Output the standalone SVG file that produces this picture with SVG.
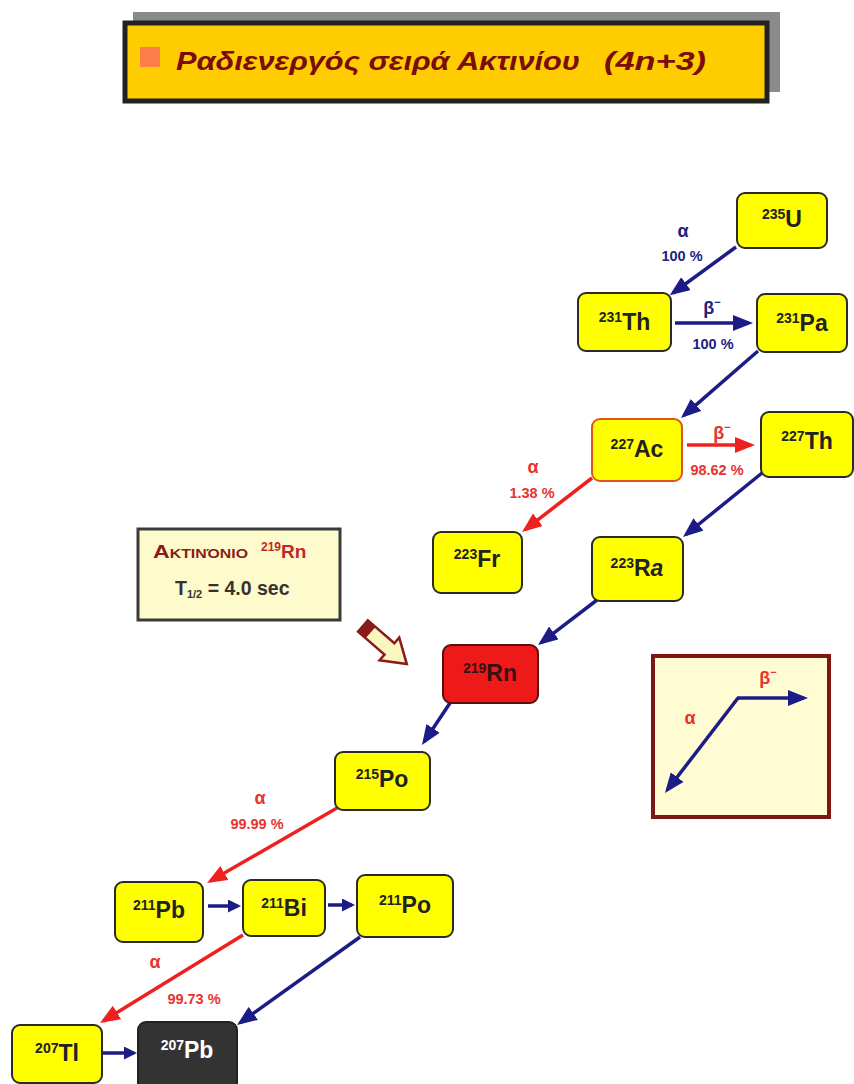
<svg xmlns="http://www.w3.org/2000/svg" width="854" height="1084" viewBox="0 0 854 1084">
<style>
.node rect{fill:#ffff00;stroke:#2a2a2a;stroke-width:2}
.nt{font-family:"Liberation Sans",Arial,sans-serif;font-weight:bold;font-size:23px;fill:#222;text-anchor:middle}
.sup{font-size:14px}
.lb{font-family:"Liberation Sans",Arial,sans-serif;font-weight:bold;font-size:14.5px;text-anchor:middle}
.gk{font-size:18px}
.blue{fill:#1c237e}
.red{fill:#e8322e}
.ab{stroke:#1c1c86;stroke-width:3.5;fill:none}
.ar{stroke:#ee2020;stroke-width:3.5;fill:none}
</style>
<defs>
<marker id="hb" markerUnits="userSpaceOnUse" viewBox="0 0 20 16" markerWidth="20" markerHeight="16" refX="16" refY="8" orient="auto"><path d="M0,0 L20,8 L0,16 z" fill="#1c1c86"/></marker>
<marker id="hr" markerUnits="userSpaceOnUse" viewBox="0 0 20 16" markerWidth="20" markerHeight="16" refX="16" refY="8" orient="auto"><path d="M0,0 L20,8 L0,16 z" fill="#ee2020"/></marker>
<marker id="sb" markerUnits="userSpaceOnUse" viewBox="0 0 13 13" markerWidth="13" markerHeight="13" refX="10" refY="6.5" orient="auto"><path d="M0,0 L13,6.5 L0,13 z" fill="#1c1c86"/></marker>
</defs>
<rect width="854" height="1084" fill="#ffffff"/>

<g id="title">
<rect x="133" y="12" width="647" height="80" fill="#8a8a8a"/>
<rect x="125" y="23" width="642" height="78" fill="#ffcc00" stroke="#222" stroke-width="5"/>
<rect x="140" y="47" width="20" height="20" fill="#fb7d4c"/>
<text x="176" y="70" font-family="'Liberation Sans',Arial,sans-serif" font-weight="bold" font-style="italic" font-size="26" fill="#7a0c0c" textLength="404" lengthAdjust="spacingAndGlyphs">Ραδιενεργός σειρά Ακτινίου</text>
<text x="604" y="70" font-family="'Liberation Sans',Arial,sans-serif" font-style="italic" font-weight="bold" font-size="25" fill="#7a0c0c" textLength="102" lengthAdjust="spacingAndGlyphs">(4n+3)</text>
</g>

<g id="connectors">
<line class="ab" x1="736" y1="247" x2="673" y2="293" marker-end="url(#hb)"/>
<line class="ab" x1="675" y1="323" x2="749" y2="323" marker-end="url(#hb)"/>
<line class="ab" x1="758" y1="351" x2="684" y2="415.4" marker-end="url(#hb)"/>
<line class="ar" x1="687" y1="445" x2="751" y2="445" marker-end="url(#hr)"/>
<line class="ar" x1="592" y1="478" x2="525.2" y2="529.6" marker-end="url(#hr)"/>
<line class="ab" x1="762" y1="473" x2="686.1" y2="534.5" marker-end="url(#hb)"/>
<line class="ab" x1="597" y1="600" x2="541.2" y2="642.6" marker-end="url(#hb)"/>
<line class="ab" x1="450" y1="703" x2="424.2" y2="741.7" marker-end="url(#hb)"/>
<line class="ar" x1="337" y1="808" x2="210.5" y2="881" marker-end="url(#hr)"/>
<line class="ab" x1="208" y1="906" x2="238" y2="906" stroke-width="4" marker-end="url(#sb)"/>
<line class="ab" x1="328" y1="905" x2="352" y2="905" stroke-width="4" marker-end="url(#sb)"/>
<line class="ar" x1="243" y1="935" x2="103.4" y2="1020.9" marker-end="url(#hr)"/>
<line class="ab" x1="360" y1="937" x2="240.3" y2="1022.7" marker-end="url(#hb)"/>
<line class="ab" x1="103" y1="1053" x2="134" y2="1053" stroke-width="4" marker-end="url(#sb)"/>
</g>

<g id="labels">
<text class="lb blue gk" x="683" y="237">α</text>
<text class="lb blue" x="682" y="261">100 %</text>
<text class="lb blue gk" x="712" y="314" font-size="17">β<tspan font-size="11" dy="-8">−</tspan></text>
<text class="lb blue" x="713" y="349">100 %</text>
<text class="lb red gk" x="722" y="439" font-size="17">β<tspan font-size="11" dy="-8">−</tspan></text>
<text class="lb red" x="717" y="475">98.62 %</text>
<text class="lb red gk" x="533" y="473">α</text>
<text class="lb red" x="532" y="498">1.38 %</text>
<text class="lb red gk" x="260" y="804">α</text>
<text class="lb red" x="257" y="829">99.99 %</text>
<text class="lb red gk" x="155" y="968">α</text>
<text class="lb red" x="194" y="1004">99.73 %</text>
</g>

<g id="n235U" class="node"><rect x="737" y="193" width="90" height="55" rx="8"/><text class="nt" x="782" y="227"><tspan class="sup" dy="-8">235</tspan><tspan dy="8">U</tspan></text></g>
<g id="n231Th" class="node"><rect x="578" y="293" width="93" height="58" rx="8"/><text class="nt" x="624.5" y="330"><tspan class="sup" dy="-8">231</tspan><tspan dy="8">Th</tspan></text></g>
<g id="n231Pa" class="node"><rect x="757" y="294" width="90" height="58" rx="8"/><text class="nt" x="802" y="331"><tspan class="sup" dy="-8">231</tspan><tspan dy="8">Pa</tspan></text></g>
<g id="n227Ac" class="node"><rect x="592" y="419" width="90" height="62" rx="8" style="stroke:#e0541c"/><text class="nt" x="637" y="457"><tspan class="sup" dy="-8">227</tspan><tspan dy="8">Ac</tspan></text></g>
<g id="n227Th" class="node"><rect x="761" y="412" width="92" height="65" rx="8"/><text class="nt" x="807" y="449"><tspan class="sup" dy="-8">227</tspan><tspan dy="8">Th</tspan></text></g>
<g id="n223Fr" class="node"><rect x="433" y="532" width="89" height="61" rx="8"/><text class="nt" x="477" y="567"><tspan class="sup" dy="-8">223</tspan><tspan dy="8">Fr</tspan></text></g>
<g id="n223Ra" class="node"><rect x="592" y="537" width="91" height="64" rx="8"/><text class="nt" x="637" y="576"><tspan class="sup" dy="-8">223</tspan><tspan dy="8">R</tspan><tspan font-style="italic">a</tspan></text></g>
<g id="n219Rn" class="node"><rect x="443" y="645" width="95" height="58" rx="8" style="fill:#ee1a1a;stroke:#5a1010"/><text class="nt" x="490" y="681" style="fill:#3a1010"><tspan class="sup" dy="-8">219</tspan><tspan dy="8">Rn</tspan></text></g>
<g id="n215Po" class="node"><rect x="335" y="752" width="95" height="58" rx="8"/><text class="nt" x="382" y="787"><tspan class="sup" dy="-8">215</tspan><tspan dy="8">Po</tspan></text></g>
<g id="n211Pb" class="node"><rect x="115" y="882" width="88" height="60" rx="8"/><text class="nt" x="159" y="918"><tspan class="sup" dy="-8">211</tspan><tspan dy="8">Pb</tspan></text></g>
<g id="n211Bi" class="node"><rect x="243" y="880" width="82" height="56" rx="8"/><text class="nt" x="284" y="916"><tspan class="sup" dy="-8">211</tspan><tspan dy="8">Bi</tspan></text></g>
<g id="n211Po" class="node"><rect x="357" y="875" width="96" height="62" rx="8"/><text class="nt" x="405" y="913"><tspan class="sup" dy="-8">211</tspan><tspan dy="8">Po</tspan></text></g>
<g id="n207Tl" class="node"><rect x="12" y="1025" width="90" height="58" rx="8"/><text class="nt" x="57" y="1061"><tspan class="sup" dy="-8">207</tspan><tspan dy="8">Tl</tspan></text></g>
<g id="n207Pb" class="node"><rect x="138" y="1022" width="99" height="72" rx="8" style="fill:#333333;stroke:#222"/><text class="nt" x="187" y="1058" style="fill:#ffffff"><tspan class="sup" dy="-8">207</tspan><tspan dy="8">Pb</tspan></text></g>

<g id="info">
<rect x="138" y="529" width="202" height="91" fill="#fdfbcc" stroke="#3a3a3a" stroke-width="3"/>
<text x="153" y="558" font-family="'Liberation Sans',Arial,sans-serif" font-weight="bold" font-size="19" fill="#8b1a1a" style="font-variant:small-caps" textLength="95" lengthAdjust="spacingAndGlyphs">Ακτινόνιο</text>
<text x="261" y="558" font-family="'Liberation Sans',Arial,sans-serif" font-weight="bold" font-size="19" fill="#c0282a"><tspan font-size="12" dy="-7">219</tspan><tspan dy="7">Rn</tspan></text>
<text x="175" y="595" font-family="'Liberation Sans',Arial,sans-serif" font-weight="bold" font-size="19.5" fill="#3a3030">T<tspan font-size="11" dy="3">1/2</tspan><tspan dy="-3"> = 4.0 sec</tspan></text>
</g>

<g id="pointer" transform="translate(363,626) rotate(41)">
<path d="M0,-7.5 L35,-7.5 L35,-15 L58,0 L35,15 L35,7.5 L0,7.5 z" fill="#fbf6c0" stroke="#8b1a1a" stroke-width="2.5" stroke-linejoin="miter"/>
<rect x="0" y="-7.5" width="10" height="15" fill="#8b1a1a"/>
</g>

<g id="legend">
<rect x="653" y="656" width="176" height="161" fill="#fffbd2" stroke="#7f1515" stroke-width="4"/>
<line class="ab" x1="737" y1="698" x2="804" y2="698" marker-end="url(#hb)"/>
<line class="ab" x1="738" y1="698" x2="667.4" y2="789.8" marker-end="url(#hb)"/>
<text class="lb red gk" x="768" y="684" font-size="17">β<tspan font-size="11" dy="-8">−</tspan></text>
<text class="lb red gk" x="690" y="724">α</text>
</g>
</svg>
